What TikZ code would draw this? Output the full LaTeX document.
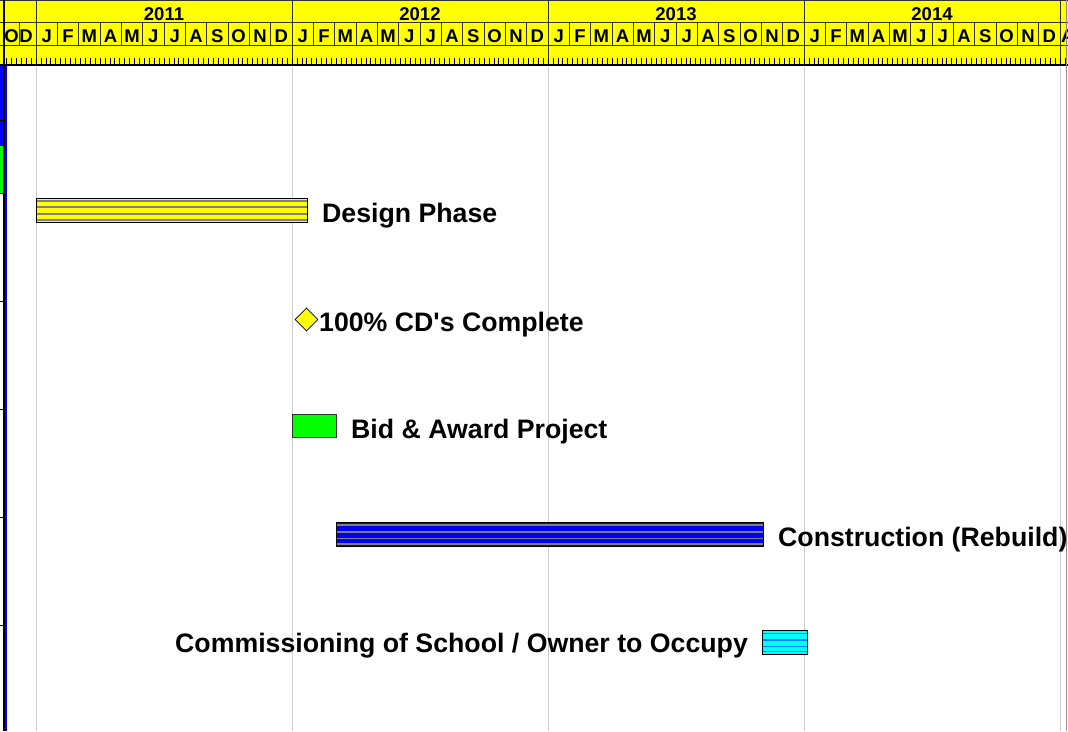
\documentclass[tikz,border=0pt]{standalone}
\usepackage{fontspec}
\setmainfont{Liberation Sans}
\usetikzlibrary{shapes.geometric}
\definecolor{hdryellow}{RGB}{255,255,0}
\definecolor{barblue}{RGB}{0,0,255}
\definecolor{bargreen}{RGB}{0,255,0}
\definecolor{barcyan}{RGB}{0,255,255}
\definecolor{stripeblue}{RGB}{0,128,255}
\definecolor{stripegray}{RGB}{128,128,128}
\tikzset{
  tasklabel/.style={font=\bfseries\fontsize{26.7}{30}\selectfont, inner sep=0pt},
  hdrtext/.style={font=\bfseries\fontsize{18.5}{20}\selectfont, inner sep=0pt, anchor=base},
  gridline/.style={draw=black!20, line width=0.8pt},
  hdrline/.style={draw=black!80, line width=0.8pt},
  stripe/.style={line width=1.6pt},
}
\begin{document}
\begin{tikzpicture}[x=1pt, y=-1pt]
  \useasboundingbox (0,0) rectangle (1068,731);
  \fill[white] (0,0) rectangle (1068,731);
  % header
  \fill[hdryellow] (0,0) rectangle (1068,65);
  \draw[hdrline] (0,0.5) -- (1068,0.5);
  \draw[hdrline] (0,22) -- (1068,22);
  \draw[hdrline] (0,45) -- (1068,45);
  \foreach \k in {0,...,48}
    \draw[hdrline] ({36+\k*21.3333},22) -- ({36+\k*21.3333},45);
  \draw[hdrline] (19,22) -- (19,45);
  \foreach \k in {0,...,4}
    \draw[hdrline] ({36+\k*256},0) -- ({36+\k*256},65);
  \foreach \k in {-6,...,210}
    \draw[line width=0.6pt] ({36+\k*4.9231},58) -- ({36+\k*4.9231},65);
  \draw[black, line width=1.2pt] (0,65) -- (1068,65);
  \foreach \yr [count=\i from 0] in {2011,2012,2013,2014} {
    \node[hdrtext] (yr\i) at ({164+256*\i},20.5) {\yr};
    \foreach \m [count=\j from 0] in {J,F,M,A,M,J,J,A,S,O,N,D}
      \node[hdrtext] (m\i-\j) at ({36+256*\i+21.3333*(\j+0.5)},42.5) {\m};
  }
  \node[hdrtext] (mprevO) at (11.5,42.5) {O};
  \node[hdrtext] (mprevD) at (26,42.5) {D};
  \node[hdrtext, anchor=base west] (mnextA) at (1061,42.5) {A};
  % grid
  \foreach \k in {0,...,4}
    \draw[gridline] ({36+\k*256},66) -- ({36+\k*256},731);
  \draw[draw=black!45, line width=0.8pt] (1066.7,0) -- (1066.7,731);
  % left strip
  \fill[barblue] (0,65.5) rectangle (4,146);
  \fill[bargreen] (0,146) rectangle (4,193);
  \foreach \ry in {120,193,301,409,517,625}
    \draw[line width=0.8pt] (0,\ry) -- (4,\ry);
  \draw[black, line width=1.2pt] (4,0) -- (4,731);
  \fill[barblue] (4.8,65.5) rectangle (7.4,731);
  % Design Phase
  \fill[hdryellow] (36,198) rectangle (307,222);
  \foreach \sy in {200.7,207,213.7,220}
    \draw[stripe, stripegray] (36,\sy) -- (307,\sy);
  \draw[line width=0.8pt] (36,198) rectangle (307,222);
  \node[tasklabel, anchor=base west] (design) at (322,222) {Design Phase};
  % milestone
  \node[diamond, draw, fill=hdryellow, line width=0.6pt, minimum width=23, minimum height=23, inner sep=0pt] (cdmile) at (306.5,319.5) {};
  \node[tasklabel, anchor=base west] (cdtext) at (319,331) {100\% CD\textquotesingle s Complete};
  % Bid & Award
  \filldraw[fill=bargreen, draw=black!80, line width=0.8pt] (292.7,414) rectangle (336.7,437.7);
  \node[tasklabel, anchor=base west] (bid) at (351,438.3) {Bid \& Award Project};
  % Construction
  \fill[barblue] (336,522.3) rectangle (763.3,546);
  \foreach \sy in {525,531.7,538.3,544}
    \draw[stripe, stripegray] (336,\sy) -- (763.3,\sy);
  \draw[line width=0.8pt] (336,522.3) rectangle (763.3,546);
  \node[tasklabel, anchor=base west] (constr) at (778,546) {Construction (Rebuild)};
  % Commissioning
  \fill[barcyan] (762.7,630) rectangle (807.3,654.3);
  \foreach \sy in {633.3,640,646.6,651.5}
    \draw[stripe, stripeblue] (762.7,\sy) -- (807.3,\sy);
  \draw[line width=0.8pt] (762.7,630) rectangle (807.3,654.3);
  \node[tasklabel, anchor=base east] (commis) at (748,652) {Commissioning of School / Owner to Occupy};
\end{tikzpicture}
\end{document}
